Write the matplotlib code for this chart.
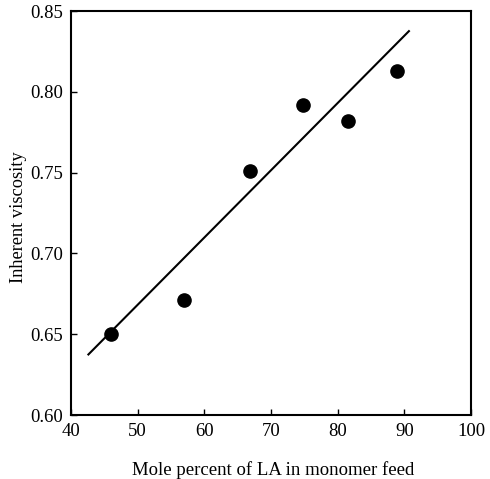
import matplotlib
matplotlib.use("Agg")
import matplotlib.pyplot as plt

# Measured inherent viscosity versus LA content in the feed
mole_percent_la = [46.0, 56.9, 66.8, 74.8, 81.5, 88.9]
inherent_viscosity = [0.650, 0.671, 0.751, 0.792, 0.782, 0.813]

# Straight-line trend drawn through the data
trend_x = [42.5, 90.8]
trend_y = [0.637, 0.838]

x_ticks = [40, 50, 60, 70, 80, 90, 100]
y_ticks = [0.60, 0.65, 0.70, 0.75, 0.80, 0.85]

plt.rcParams["font.family"] = ["Liberation Serif", "DejaVu Serif"]

fig = plt.figure(figsize=(4.90, 4.79), dpi=100)
ax = fig.add_axes([71 / 490, 1 - 415 / 479, 400 / 490, 404 / 479])

ax.plot(trend_x, trend_y, color="black", linewidth=1.5, solid_capstyle="butt")
ax.plot(mole_percent_la, inherent_viscosity, "o", color="black",
        markersize=9.5, zorder=3)

ax.set_xlim(40, 100)
ax.set_ylim(0.60, 0.85)
ax.set_xticks(x_ticks)
ax.set_yticks(y_ticks)
ax.set_xticklabels([str(v) for v in x_ticks])
ax.set_yticklabels([f"{v:.2f}" for v in y_ticks])
ax.tick_params(direction="in", length=4, width=1, labelsize=13.5,
               top=False, right=False)
ax.tick_params(axis="x", pad=6)
ax.tick_params(axis="y", pad=6)

for side in ax.spines.values():
    side.set_linewidth(1.5)

ax.set_xlabel("Mole percent of LA in monomer feed", fontsize=13.5)
ax.set_ylabel("Inherent viscosity", fontsize=13.2)
ax.xaxis.set_label_coords(0.505, -0.113)
ax.yaxis.set_label_coords(-0.11, 0.49)

fig.savefig("out.png", dpi=100)
